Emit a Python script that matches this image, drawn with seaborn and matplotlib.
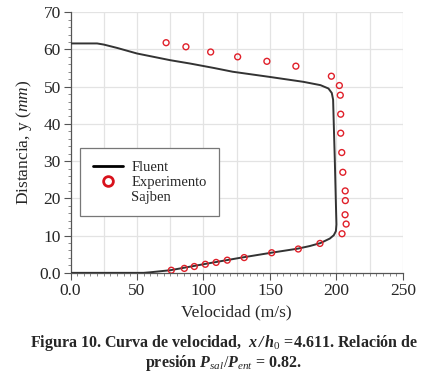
import numpy as np
import pandas as pd
import matplotlib
matplotlib.use("Agg")
import matplotlib.pyplot as plt
from matplotlib.ticker import MultipleLocator, FixedLocator, FixedFormatter
from matplotlib.lines import Line2D
import seaborn as sns

# Curva Fluent (velocidad m/s, distancia mm)
fluent_v = [0, 20, 25, 35, 50, 75, 90, 108, 122, 150, 175, 188, 194, 196.5, 197.5,
            198, 198.8, 199.5, 200, 199.6, 198, 195, 188, 180, 171, 151, 127, 103, 75, 60, 55, 0]
fluent_y = [61.6, 61.6, 61.3, 60.4, 58.9, 57.1, 56.2, 55.0, 54.0, 52.6, 51.3, 50.4, 49.5, 48.3, 46.5,
            40, 30, 20, 13, 11.2, 10.1, 9.2, 8.0, 7.2, 6.5, 5.4, 4.0, 2.5, 0.7, 0.15, 0.0, 0.0]

# Experimento Sajben
exp_v = [71.9, 86.8, 105.4, 125.7, 147.7, 169.5, 196.2, 202.2, 202.9, 203.2, 203.2, 204.0,
         204.8, 206.6, 206.7, 206.5, 207.3, 204.2, 187.6, 171.3, 151.3, 130.6, 117.9, 109.5,
         101.4, 93.1, 85.6, 75.8]
exp_y = [61.8, 60.7, 59.3, 58.0, 56.8, 55.5, 52.8, 50.3, 47.7, 42.6, 37.5, 32.3,
         27.0, 22.0, 19.4, 15.6, 13.1, 10.5, 7.9, 6.4, 5.4, 4.1, 3.4, 2.8,
         2.3, 1.7, 1.2, 0.7]

xticks = [0, 50, 100, 150, 200, 250]
xlabels = ["0.0", "50", "100", "150", "200", "250"]
yticks = [0, 10, 20, 30, 40, 50, 60, 70]
ylabels = ["0.0", "10", "20", "30", "40", "50", "60", "70"]

sns.set_style("white")
plt.rcParams['font.family'] = ['Liberation Serif', 'DejaVu Serif']
plt.rcParams['mathtext.fontset'] = 'custom'
plt.rcParams['mathtext.rm'] = 'Liberation Serif'
plt.rcParams['mathtext.it'] = 'Liberation Serif:italic'
plt.rcParams['mathtext.bf'] = 'Liberation Serif:bold'
plt.rcParams['mathtext.bfit'] = 'Liberation Serif:italic:bold'

fig = plt.figure(figsize=(4.3, 3.8), dpi=100)
ax = fig.add_axes([0.164, 0.282, 0.773, 0.686])

# rejilla
for gx in np.arange(25, 251, 25):
    ax.axvline(gx, color='#e3e3e3', lw=0.9, zorder=0)
for gy in np.arange(10, 71, 10):
    ax.axhline(gy, color='#e3e3e3', lw=0.9, zorder=0)

df_f = pd.DataFrame({'v': fluent_v, 'y': fluent_y})
df_e = pd.DataFrame({'v': exp_v, 'y': exp_y})
sns.lineplot(data=df_f, x='v', y='y', sort=False, estimator=None, color='#333333',
             lw=1.4, ax=ax, zorder=3)
sns.scatterplot(data=df_e, x='v', y='y', marker='o', s=18, facecolors='none',
                edgecolor='#e0202a', linewidth=1.0, ax=ax, zorder=4)

ax.set_xlim(0, 250)
ax.set_ylim(0, 70)
ax.xaxis.set_major_locator(FixedLocator(xticks))
ax.xaxis.set_major_formatter(FixedFormatter(xlabels))
ax.yaxis.set_major_locator(FixedLocator(yticks))
ax.yaxis.set_major_formatter(FixedFormatter(ylabels))
ax.xaxis.set_minor_locator(MultipleLocator(5))
ax.yaxis.set_minor_locator(MultipleLocator(2))
ax.tick_params(which='major', direction='out', length=5, width=0.8, color='#555555',
               labelsize=12.5, pad=2, bottom=True, left=True)
ax.tick_params(which='minor', direction='out', length=2.5, width=0.6, color='#777777',
               bottom=True, left=True)
for s in ['top', 'right']:
    ax.spines[s].set_visible(False)
for s in ['left', 'bottom']:
    ax.spines[s].set_color('#555555')
    ax.spines[s].set_linewidth(0.9)

ax.set_xlabel('Velocidad (m/s)', fontsize=12.5, labelpad=4)
ax.set_ylabel(r'Distancia, y ($mm$)', fontsize=12.5, labelpad=4)

# leyenda: "Sajben" como segunda linea de la entrada del experimento
h_line = Line2D([], [], color='black', lw=2.0)
h_circ = Line2D([], [], ls='none', marker='o', markersize=7, markerfacecolor='none',
                markeredgecolor='#d8121c', markeredgewidth=2.0)
h_none = Line2D([], [], ls='none', alpha=0)
leg = ax.legend(handles=[h_line, h_circ, h_none], labels=['Fluent', 'Experimento', 'Sajben'],
                loc='upper left', bbox_to_anchor=(0.029, 0.478), fontsize=10.5,
                frameon=True, fancybox=False, edgecolor='#777777', handlelength=2.1,
                borderpad=0.85, labelspacing=0.12, borderaxespad=0, handletextpad=0.55)
leg.get_frame().set_linewidth(0.9)
leg.get_frame().set_alpha(1)

fig.text(0.52, 0.098, r"Figura 10. Curva de velocidad,  $\mathbfit{x\,/\,h}_{0}$ =4.611. Relación de",
         ha='center', va='center', fontsize=11.5, weight='bold')
fig.text(0.52, 0.045, r"presión $\mathbfit{P}_{\mathit{sal}}/\mathbfit{P}_{\mathit{ent}}$ = 0.82.",
         ha='center', va='center', fontsize=11.5, weight='bold')

fig.savefig('out.png', dpi=100)
